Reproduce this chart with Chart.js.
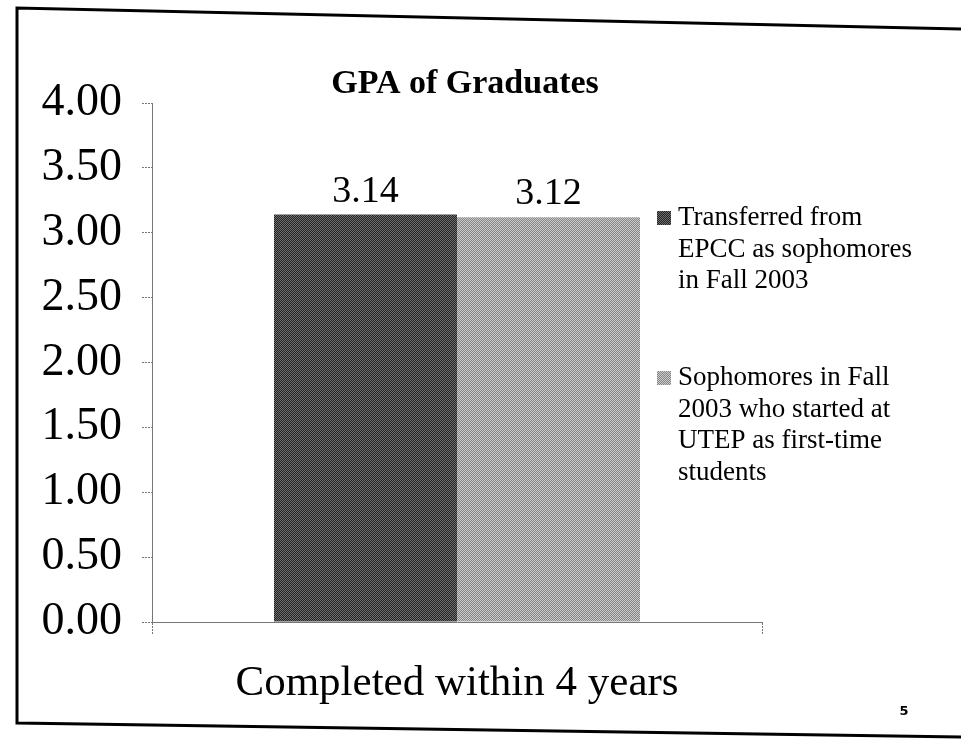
<!DOCTYPE html>
<html lang="en">
<head>
  <meta charset="UTF-8" />
  <title>GPA of Graduates</title>
  <script src="https://cdn.jsdelivr.net/npm/chart.js"></script>
  <style>
    html, body { margin: 0; padding: 0; background: #fff; }
    .slide { width: 961px; height: 740px; }
  </style>
</head>
<body>
  <div class="slide"><canvas id="gpaChart" width="961" height="740"></canvas></div>

  <script>
    const categories = ["Completed within 4 years"];
    const seriesNames = [
      ["Transferred from", "EPCC as sophomores", "in Fall 2003"],
      ["Sophomores in Fall", "2003 who started at", "UTEP as first-time", "students"]
    ];
    const transferredGpa = [3.14];
    const nativeGpa = [3.12];
    const yTicks = [0, 0.5, 1, 1.5, 2, 2.5, 3, 3.5, 4];

    const serif = "'Liberation Serif', 'Times New Roman', serif";

    // dithered fill like the scanned print
    function dither(c1, c2) {
      const p = document.createElement("canvas");
      p.width = 2; p.height = 2;
      const g = p.getContext("2d");
      g.fillStyle = c1; g.fillRect(0, 0, 2, 2);
      g.fillStyle = c2; g.fillRect(0, 0, 1, 1); g.fillRect(1, 1, 1, 1);
      return g.createPattern(p, "repeat");
    }
    const darkFill = dither("#222", "#707070");
    const lightFill = dither("#858585", "#cbcbcb");

    const slideDecor = {
      id: "slideDecor",
      afterDraw(chart) {
        const ctx = chart.ctx;
        ctx.save();

        // slide frame
        ctx.strokeStyle = "#000";
        ctx.lineWidth = 3;
        ctx.beginPath();
        ctx.moveTo(961, 29); ctx.lineTo(17, 8); ctx.lineTo(17, 723); ctx.lineTo(961, 737);
        ctx.stroke();

        // title
        ctx.fillStyle = "#000";
        ctx.textAlign = "center";
        ctx.textBaseline = "middle";
        ctx.font = "bold 34px " + serif;
        ctx.fillText("GPA of Graduates", 465, 84);

        // value labels
        ctx.font = "38px " + serif;
        ctx.textBaseline = "bottom";
        chart.data.datasets.forEach((ds, i) => {
          chart.getDatasetMeta(i).data.forEach((bar, j) => {
            ctx.fillText(ds.data[j].toFixed(2), bar.x, bar.y - 4);
          });
        });

        // legend
        const fills = [darkFill, lightFill];
        const starts = [218, 378];
        ctx.font = "27px " + serif;
        ctx.textAlign = "left";
        ctx.textBaseline = "middle";
        seriesNames.forEach((lines, i) => {
          ctx.fillStyle = fills[i];
          ctx.fillRect(657, starts[i] - 7, 14, 14);
          ctx.fillStyle = "#000";
          lines.forEach((t, k) => ctx.fillText(t, 678, starts[i] + k * 31.5));
        });

        // page number
        ctx.font = "bold 13px 'DejaVu Sans', sans-serif";
        ctx.textAlign = "center";
        ctx.fillText("5", 904, 712);

        ctx.restore();
      }
    };

    new Chart(document.getElementById("gpaChart"), {
      type: "bar",
      data: {
        labels: categories,
        datasets: [
          { label: seriesNames[0].join(" "), data: transferredGpa, backgroundColor: darkFill },
          { label: seriesNames[1].join(" "), data: nativeGpa, backgroundColor: lightFill }
        ]
      },
      options: {
        responsive: false,
        animation: false,
        layout: { padding: { left: 0, top: 103, right: 199, bottom: 0 } },
        datasets: { bar: { categoryPercentage: 0.6, barPercentage: 1.0 } },
        plugins: {
          legend: { display: false },
          title: { display: false },
          tooltip: { enabled: false }
        },
        scales: {
          x: {
            afterFit: s => { s.height = 118; },
            border: { display: true, color: "#777", dash: [2, 1] },
            grid: { drawOnChartArea: false, tickLength: 12, tickColor: "#777", tickBorderDash: [2, 1] },
            ticks: { color: "#000", padding: 24, font: { family: serif, size: 43 } }
          },
          y: {
            min: 0,
            max: 4,
            afterFit: s => { s.width = 152; },
            afterBuildTicks: s => { s.ticks = yTicks.map(v => ({ value: v })); },
            border: { display: true, color: "#777", dash: [2, 1] },
            grid: { drawOnChartArea: false, tickLength: 10, tickColor: "#777", tickBorderDash: [2, 1] },
            ticks: {
              color: "#000",
              padding: 20,
              font: { family: serif, size: 46 },
              callback: v => Number(v).toFixed(2)
            }
          }
        }
      },
      plugins: [slideDecor]
    });
  </script>
</body>
</html>
